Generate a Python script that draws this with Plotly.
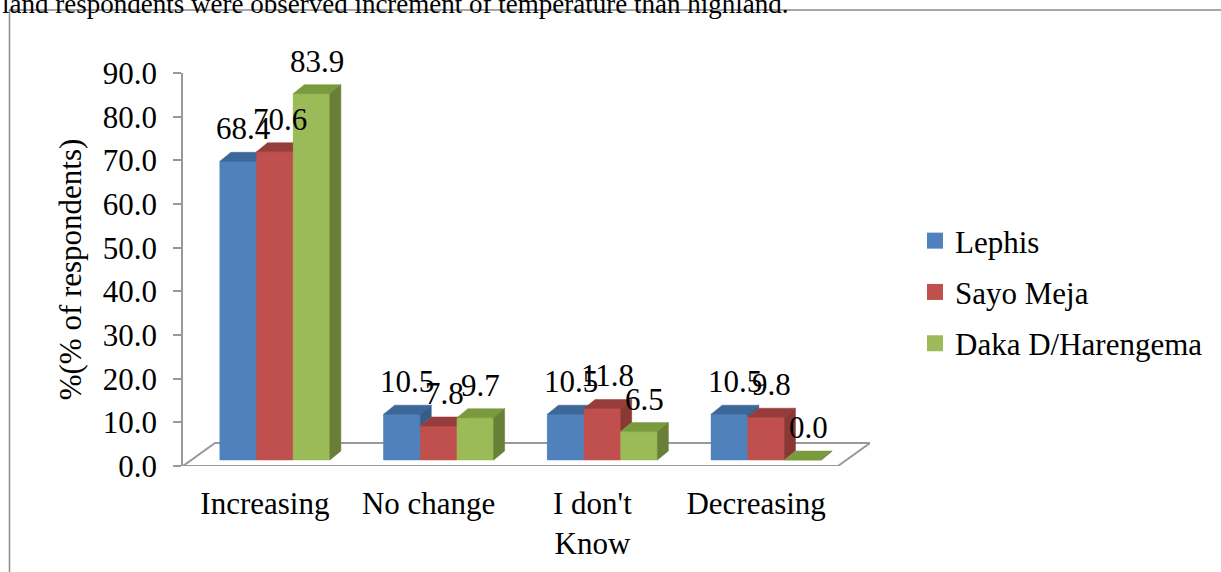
import numpy as np
import plotly.graph_objects as go

# ---------------- data ----------------
categories = ["Increasing", "No change", "I don't<br>Know", "Decreasing"]
series_names = ["Lephis", "Sayo Meja", "Daka D/Harengema"]
lephis = [68.4, 10.5, 10.5, 10.5]
sayo_meja = [70.6, 7.8, 11.8, 9.8]
daka = [83.9, 9.7, 6.5, 0.0]
y_ticks = [0, 10, 20, 30, 40, 50, 60, 70, 80, 90]
y_tick_labels = ["0.0", "10.0", "20.0", "30.0", "40.0", "50.0", "60.0", "70.0", "80.0", "90.0"]
y_title = "%(% of respondents)"
caption = "land respondents were observed increment of temperature than highland."

# ---------------- style ----------------
W, H = 1221, 572
FONT = "Liberation Serif, Times New Roman, serif"
FS = 31
front_cols = ["#4F81BD", "#C0504D", "#9BBB59"]
top_cols = ["#3D6699", "#963D3B", "#7A9A3E"]
side_cols = ["#375C89", "#8A3836", "#687F37"]
GRAY = "#999999"

FRONT_PX = (183, 838)          # front edge of the floor
Y_DOM_PX = (466, 73)           # bottom, top
PX_PER_CAT = (FRONT_PX[1] - FRONT_PX[0]) / len(categories)
PX_PER_UNIT = (Y_DOM_PX[0] - Y_DOM_PX[1]) / 90.0

FRONT_SHIFT = 10 / PX_PER_CAT
GW = 110 / PX_PER_CAT
BW = GW / 3
DX = 11 / PX_PER_CAT
DY = 9 / PX_PER_UNIT
LIFT = 6 / PX_PER_UNIT
FDX = 32 / PX_PER_CAT
FDY = 23 / PX_PER_UNIT
X_MAX = len(categories) - 0.5 + FDX
X_DOM_R = FRONT_PX[0] + (X_MAX + 0.5) * PX_PER_CAT

series = [lephis, sayo_meja, daka]
idx = np.arange(len(categories))

fig = go.Figure()

# real bars (front faces)
for j, vals in enumerate(series):
    fig.add_trace(go.Bar(
        x=idx, y=vals, base=LIFT, width=BW,
        offset=FRONT_SHIFT - GW / 2 + j * BW,
        marker=dict(color=front_cols[j], line=dict(width=0)),
        name=series_names[j], showlegend=False, hoverinfo="skip"))

# 3D faces drawn in painter's order
for j, vals in enumerate(series):
    fx, fy, tx, ty, sx, sy = [], [], [], [], [], []
    for i, v in enumerate(vals):
        xl = i + FRONT_SHIFT - GW / 2 + j * BW
        xr = xl + BW
        y0 = LIFT
        y1 = LIFT + v
        fx += [xl, xr, xr, xl, xl, None]
        fy += [y0, y0, y1, y1, y0, None]
        tx += [xl, xr, xr + DX, xl + DX, xl, None]
        ty += [y1, y1, y1 + DY, y1 + DY, y1, None]
        nxt = series[j + 1][i] if j + 1 < len(series) else 0.0
        if v > nxt or j + 1 == len(series):
            h0 = LIFT + nxt
            sx += [xr, xr, xr + DX, xr + DX, xr, None]
            sy += [h0, y1, y1 + DY, h0 + DY, h0, None]
    for xs, ys, col in ((fx, fy, front_cols[j]), (tx, ty, top_cols[j]), (sx, sy, side_cols[j])):
        fig.add_trace(go.Scatter(
            x=xs, y=ys, mode="lines", fill="toself", fillcolor=col,
            line=dict(color=col, width=0.5), showlegend=False, hoverinfo="skip"))

# value labels
for j, vals in enumerate(series):
    for i, v in enumerate(vals):
        cx = i + FRONT_SHIFT - GW / 2 + (j + 0.5) * BW + DX / 2
        fig.add_annotation(x=cx, y=LIFT + v + DY, text=f"{v:.1f}", xref="x", yref="y",
                           xanchor="center", yanchor="bottom", showarrow=False, yshift=4,
                           font=dict(family=FONT, size=FS, color="black"))

# legend entries
for j in range(3):
    fig.add_trace(go.Scatter(
        x=[None], y=[None], mode="markers", name=series_names[j],
        legendgroup=series_names[j],
        marker=dict(symbol="square", size=16, color=front_cols[j])))

# floor
floor_path = (f"M {-0.5},0 L {len(categories) - 0.5},0 "
              f"L {X_MAX},{FDY} L {-0.5 + FDX},{FDY} Z")
fig.add_shape(type="path", path=floor_path, xref="x", yref="y",
              line=dict(color=GRAY, width=2), fillcolor="white", layer="below")

# outer frame
fig.add_shape(type="path", xref="paper", yref="paper",
              path=f"M {9.5 / W},-0.1 L {9.5 / W},{1 - 10 / H} L 1.01,{1 - 10 / H}",
              line=dict(color="#8a8a8a", width=1.5))

fig.add_annotation(text=caption, xref="paper", yref="paper", x=0, y=1 - 21 / H,
                   xanchor="left", yanchor="bottom", showarrow=False,
                   font=dict(family=FONT, size=27, color="black"))

fig.update_layout(
    width=W, height=H,
    margin=dict(l=0, r=0, t=0, b=0, autoexpand=False),
    paper_bgcolor="white", plot_bgcolor="rgba(0,0,0,0)",
    barmode="overlay",
    font=dict(family=FONT, size=FS, color="black"),
    showlegend=True,
    legend=dict(x=915 / W, y=1 - 214 / H, xanchor="left", yanchor="top",
                font=dict(family=FONT, size=FS, color="black"),
                traceorder="grouped", tracegroupgap=8, bgcolor="rgba(0,0,0,0)"),
    xaxis=dict(domain=[FRONT_PX[0] / W, X_DOM_R / W], range=[-0.5, X_MAX],
               tickvals=list(idx), ticktext=categories, showline=False, ticks="",
               showgrid=False, zeroline=False, automargin=False, ticklabelstandoff=16,
               tickfont=dict(family=FONT, size=FS, color="black")),
    yaxis=dict(domain=[1 - Y_DOM_PX[0] / H, 1 - Y_DOM_PX[1] / H], range=[0, 90],
               tickvals=y_ticks, ticktext=y_tick_labels, showline=True, linecolor=GRAY,
               linewidth=1.5, ticks="outside", ticklen=8, tickcolor=GRAY, tickwidth=1.5,
               showgrid=False, zeroline=False, automargin=False, ticklabelstandoff=10,
               tickfont=dict(family=FONT, size=FS, color="black"),
               title=dict(text=y_title, standoff=12,
                          font=dict(family=FONT, size=FS, color="black"))),
)

fig.write_html("out.html")
